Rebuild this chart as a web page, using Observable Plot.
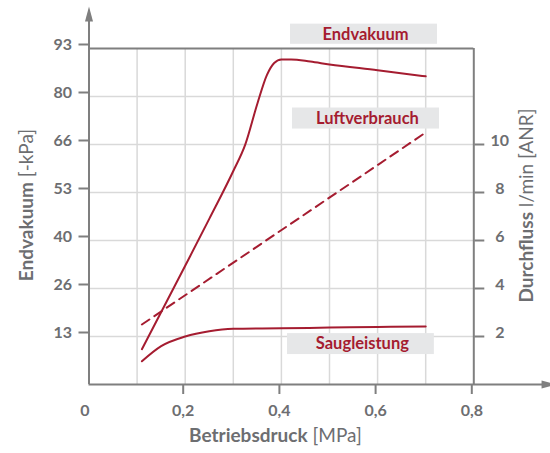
<!DOCTYPE html>
<html><head><meta charset="utf-8">
<script src="https://cdn.jsdelivr.net/npm/d3@7"></script>
<script src="https://cdn.jsdelivr.net/npm/@observablehq/plot@0.6"></script>
<style>html,body{margin:0;padding:0;background:#fff;}</style>
</head><body><div id="chart"></div>
<script>
// ---- data ----
const pressureEnd   = [0.11, 0.20, 0.25, 0.30, 0.325, 0.35, 0.37, 0.385, 0.40, 0.42, 0.46, 0.50, 0.60, 0.70];
const endvakuum     = [9.8, 33.0, 46.0, 59.3, 66.7, 78.0, 86.0, 89.3, 90.3, 90.3, 89.7, 88.9, 87.3, 85.6]; // -kPa
const pressureSaug  = [0.11, 0.15, 0.20, 0.25, 0.30, 0.40, 0.50, 0.60, 0.70];
const saugleistung  = [0.97, 1.6, 2.0, 2.22, 2.32, 2.34, 2.37, 2.40, 2.42]; // l/min
const pressureLuft  = [0.11, 0.70];
const luftverbrauch = [2.5, 10.5]; // l/min

const xTickValues = [0.2, 0.4, 0.6, 0.8];
const xTickLabels = ["0,2", "0,4", "0,6", "0,8"];
const xZeroLabel = ["0"];
const leftTickValues = [13.333, 26.667, 40, 53.333, 66.667, 80, 93.333];
const leftTickLabels = ["13", "26", "40", "53", "66", "80", "93"];
const rightTickValues = [2, 4, 6, 8, 10];
const rightTickLabels = ["2", "4", "6", "8", "10"];
const xGridValues = [0.1, 0.2, 0.3, 0.4, 0.5, 0.6, 0.7];

const xTitle = ["Betriebsdruck", "[MPa]"];
const leftTitle = ["Endvakuum", "[-kPa]"];
const rightTitle = ["Durchfluss", "l/min [ANR]"];

// series labels (boxes), in data units of the chart
const seriesLabels = [
  {name: "Endvakuum",     x1: 0.419, x2: 0.7245, y1: 94.5,  y2: 100.1},
  {name: "Luftverbrauch", x1: 0.423, x2: 0.7287, y1: 70.96, y2: 76.8},
  {name: "Saugleistung",  x1: 0.4127, x2: 0.718, y1: 8.32,  y2: 14.14}
];

// ---- derived ----
const leftMax = 93.333;
const ratio = leftMax / 14; // right axis (l/min) -> left axis units
const endData  = pressureEnd.map((x, i) => ({x, y: endvakuum[i]}));
const saugData = pressureSaug.map((x, i) => ({x, y: saugleistung[i] * ratio}));
const luftData = pressureLuft.map((x, i) => ({x, y: luftverbrauch[i] * ratio}));

const red = "#a51c30";
const axisCol = "#7f7f7f";
const gridCol = "#d9d9d9";
const textCol = "#6d6e71";
const font = "Lato, 'Open Sans', sans-serif";

const arrowUp = {draw(ctx) { ctx.moveTo(0, 0); ctx.lineTo(-4, 15); ctx.lineTo(4, 15); ctx.closePath(); }};
const arrowRight = {draw(ctx) { ctx.moveTo(0, 0); ctx.lineTo(-15, -4); ctx.lineTo(-15, 4); ctx.closePath(); }};
const yTip = 105.0;
const xTip = 0.972;

const chart = Plot.plot({
  width: 550, height: 453,
  marginLeft: 88.5, marginRight: 76.7, marginTop: 48, marginBottom: 69,
  style: {fontFamily: font, fontSize: "16px", fontWeight: "bold", color: textCol, background: "#fff"},
  x: {domain: [0, 0.8]},
  y: {domain: [0, leftMax]},
  marks: [
    // grid
    Plot.ruleX(xGridValues, {y1: 0, y2: leftMax, stroke: gridCol, strokeWidth: 1.5}),
    Plot.ruleY(leftTickValues.slice(0, 6), {x1: 0, x2: 0.8, stroke: gridCol, strokeWidth: 1.5}),
    // frame
    Plot.ruleY([leftMax], {x1: 0, x2: 0.8, stroke: axisCol, strokeWidth: 2}),
    Plot.ruleX([0.8], {y1: 0, y2: leftMax, stroke: axisCol, strokeWidth: 2}),
    // axes lines + arrows
    Plot.ruleY([0], {x1: 0, x2: xTip - 0.02, stroke: axisCol, strokeWidth: 2}),
    Plot.ruleX([0], {y1: 0, y2: yTip - 3, stroke: axisCol, strokeWidth: 2}),
    Plot.dot([0], {x: 0, y: () => yTip, symbol: arrowUp, fill: axisCol, stroke: null}),
    Plot.dot([0], {x: () => xTip, y: 0, symbol: arrowRight, fill: axisCol, stroke: null}),
    // axes ticks / labels
    Plot.axisX({ticks: xTickValues, tickSize: 10, tickPadding: 10, strokeWidth: 2, stroke: axisCol,
      tickFormat: d => xTickLabels[xTickValues.indexOf(d)], dx: -2}),
    Plot.axisX({ticks: [0], tickSize: 0, tickPadding: 20, tickFormat: () => xZeroLabel[0], dx: -4}),
    Plot.axisY({ticks: leftTickValues, tickSize: 10, tickPadding: 7, strokeWidth: 2, stroke: axisCol,
      tickFormat: d => leftTickLabels[leftTickValues.indexOf(d)], dy: -4}),
    Plot.axisY({anchor: "right", ticks: rightTickValues.map(v => v * ratio), tickSize: 10, strokeWidth: 2,
      stroke: axisCol, tickFormat: () => ""}),
    Plot.text(rightTickValues, {y: d => d * ratio, text: (d, i) => rightTickLabels[i], frameAnchor: "right",
      dx: 26, dy: -3.5, textAnchor: "middle", fill: textCol}),
    // series
    Plot.line(endData, {x: "x", y: "y", stroke: red, strokeWidth: 2, curve: "monotone-x"}),
    Plot.line(saugData, {x: "x", y: "y", stroke: red, strokeWidth: 2, curve: "monotone-x"}),
    Plot.line(luftData, {x: "x", y: "y", stroke: red, strokeWidth: 2, strokeDasharray: "9,6"}),
    // series label boxes
    Plot.rect(seriesLabels, {x1: "x1", x2: "x2", y1: "y1", y2: "y2", fill: "#e6e7e8"}),
    Plot.text(seriesLabels, {x: d => (d.x1 + d.x2) / 2 + 0.003, y: d => (d.y1 + d.y2) / 2, text: "name",
      fill: red, fontSize: 16.5, fontWeight: "bold"}),
    // axis titles
    Plot.text([xTitle.join(" ")], {frameAnchor: "bottom", dy: 57, dx: -6, fontSize: 19, fill: textCol}),
    Plot.text([leftTitle.join(" ")], {frameAnchor: "left", textAnchor: "middle", rotate: -90, dx: -62.5, dy: -11.5, fontSize: 19, fill: textCol}),
    Plot.text([rightTitle.join(" ")], {frameAnchor: "right", textAnchor: "middle", rotate: -90, dx: 53, dy: -11, fontSize: 19, fill: textCol})
  ]
});

// mixed weights in axis titles
for (const [bold, normal] of [xTitle, leftTitle, rightTitle]) {
  d3.select(chart).selectAll("text").filter(function() { return this.textContent === bold + " " + normal; })
    .each(function() {
      const t = d3.select(this);
      t.text("");
      t.append("tspan").attr("font-weight", "bold").text(bold);
      t.append("tspan").attr("font-weight", "normal").text(" " + normal);
    });
}
document.getElementById("chart").appendChild(chart);
</script>
</body></html>
